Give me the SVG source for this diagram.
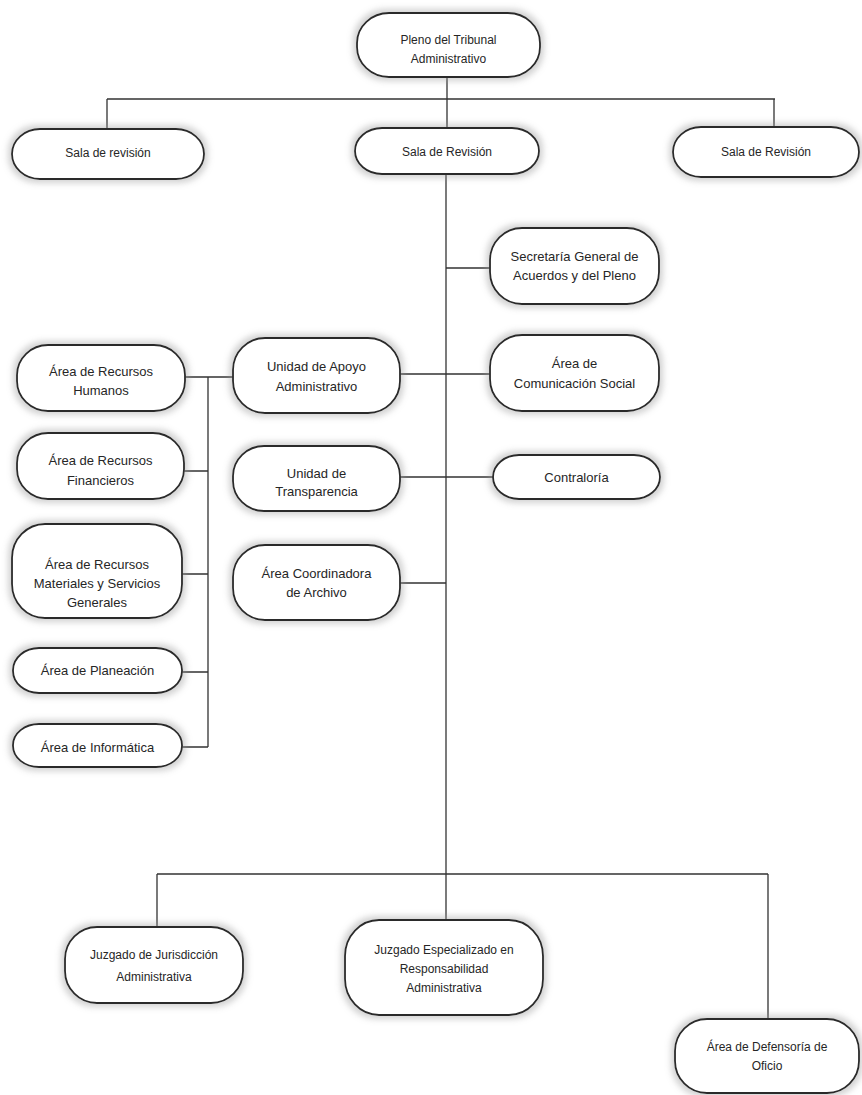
<svg xmlns="http://www.w3.org/2000/svg" width="862" height="1095" viewBox="0 0 862 1095">
  <style>
    .box { fill: #ffffff; stroke: #2a2a2a; stroke-width: 1.8; filter: url(#halo); }
    .lbl { font-family: "Liberation Sans", Arial, sans-serif; font-size: 13px; fill: #262626; text-anchor: middle; dominant-baseline: central; }
    .sm { font-size: 12px; }
    .conn { stroke: #333333; stroke-width: 1.3; fill: none; }
  </style>
  <defs>
    <filter id="halo" x="-15%" y="-30%" width="130%" height="160%">
      <feMorphology in="SourceAlpha" operator="dilate" radius="3" result="d"/>
      <feGaussianBlur in="d" stdDeviation="3" result="b"/>
      <feFlood flood-color="#9a9a9a" flood-opacity="0.45"/>
      <feComposite in2="b" operator="in" result="s"/>
      <feMerge><feMergeNode in="s"/><feMergeNode in="SourceGraphic"/></feMerge>
    </filter>
  </defs>
  <rect width="862" height="1095" fill="#ffffff"/>

  <g id="connectors">
    <path class="conn" d="M447 77 V99 M107 99 H775 M107 99 V129 M447 99 V128 M774 99 V127"/>
    <path class="conn" d="M446 174 V920"/>
    <path class="conn" d="M446 268 H490 M400 374 H490 M400 477 H493 M400 583 H446"/>
    <path class="conn" d="M185 377 H233 M208 377 V747 M184 471 H208 M182 574 H208 M182 672 H208 M182 747 H208"/>
    <path class="conn" d="M157 874 H768 M157 874 V927 M768 874 V1019"/>
  </g>

  <g id="pleno">
    <rect class="box" x="357" y="13" width="183" height="64" rx="32" ry="30"/>
    <text class="lbl sm" x="448.5" y="40">Pleno del Tribunal</text>
    <text class="lbl sm" x="448.5" y="59">Administrativo</text>
  </g>
  <g id="sala-1">
    <rect class="box" x="12" y="129" width="192" height="50" rx="28" ry="25"/>
    <text class="lbl sm" x="108" y="153">Sala de revisión</text>
  </g>
  <g id="sala-2">
    <rect class="box" x="355" y="128" width="184" height="46" rx="27" ry="23"/>
    <text class="lbl sm" x="447" y="152">Sala de Revisión</text>
  </g>
  <g id="sala-3">
    <rect class="box" x="673" y="127" width="186" height="50" rx="28" ry="25"/>
    <text class="lbl sm" x="766" y="152">Sala de Revisión</text>
  </g>

  <g id="secretaria">
    <rect class="box" x="490" y="228" width="169" height="76" rx="32" ry="32"/>
    <text class="lbl" x="574.5" y="256">Secretaría General de</text>
    <text class="lbl" x="574.5" y="275">Acuerdos y del Pleno</text>
  </g>
  <g id="comunicacion">
    <rect class="box" x="490" y="335" width="169" height="76" rx="32" ry="32"/>
    <text class="lbl" x="574.5" y="363">Área de</text>
    <text class="lbl" x="574.5" y="383">Comunicación Social</text>
  </g>
  <g id="contraloria">
    <rect class="box" x="493" y="455" width="167" height="44" rx="26" ry="22"/>
    <text class="lbl" x="576.5" y="477">Contraloría</text>
  </g>

  <g id="apoyo">
    <rect class="box" x="233" y="338" width="167" height="75" rx="32" ry="32"/>
    <text class="lbl" x="316.5" y="366">Unidad de Apoyo</text>
    <text class="lbl" x="316.5" y="386">Administrativo</text>
  </g>
  <g id="transparencia">
    <rect class="box" x="233" y="446" width="167" height="65" rx="31" ry="30"/>
    <text class="lbl" x="316.5" y="473">Unidad de</text>
    <text class="lbl" x="316.5" y="491">Transparencia</text>
  </g>
  <g id="archivo">
    <rect class="box" x="233" y="545" width="167" height="75" rx="32" ry="32"/>
    <text class="lbl" x="316.5" y="573">Área Coordinadora</text>
    <text class="lbl" x="316.5" y="592">de Archivo</text>
  </g>

  <g id="humanos">
    <rect class="box" x="17" y="345" width="168" height="66" rx="31" ry="30"/>
    <text class="lbl" x="101" y="371">Área de Recursos</text>
    <text class="lbl" x="101" y="390">Humanos</text>
  </g>
  <g id="financieros">
    <rect class="box" x="17" y="433" width="167" height="66" rx="31" ry="30"/>
    <text class="lbl" x="100.5" y="460">Área de Recursos</text>
    <text class="lbl" x="100.5" y="480">Financieros</text>
  </g>
  <g id="materiales">
    <rect class="box" x="12" y="524" width="170" height="94" rx="33" ry="34"/>
    <text class="lbl" x="97" y="564">Área de Recursos</text>
    <text class="lbl" x="97" y="583">Materiales y Servicios</text>
    <text class="lbl" x="97" y="602">Generales</text>
  </g>
  <g id="planeacion">
    <rect class="box" x="13" y="648" width="169" height="45" rx="26" ry="22"/>
    <text class="lbl" x="97.5" y="670">Área de Planeación</text>
  </g>
  <g id="informatica">
    <rect class="box" x="13" y="724" width="169" height="43" rx="26" ry="21"/>
    <text class="lbl" x="97.5" y="747">Área de Informática</text>
  </g>

  <g id="juzgado-jurisdiccion">
    <rect class="box" x="65" y="927" width="178" height="76" rx="32" ry="32"/>
    <text class="lbl sm" x="154" y="955">Juzgado de Jurisdicción</text>
    <text class="lbl sm" x="154" y="977">Administrativa</text>
  </g>
  <g id="juzgado-especializado">
    <rect class="box" x="345" y="920" width="198" height="95" rx="34" ry="36"/>
    <text class="lbl sm" x="444" y="950">Juzgado Especializado en</text>
    <text class="lbl sm" x="444" y="969">Responsabilidad</text>
    <text class="lbl sm" x="444" y="988">Administrativa</text>
  </g>
  <g id="defensoria">
    <rect class="box" x="675" y="1019" width="184" height="74" rx="32" ry="32"/>
    <text class="lbl sm" x="767" y="1047">Área de Defensoría de</text>
    <text class="lbl sm" x="767" y="1066">Oficio</text>
  </g>
</svg>
